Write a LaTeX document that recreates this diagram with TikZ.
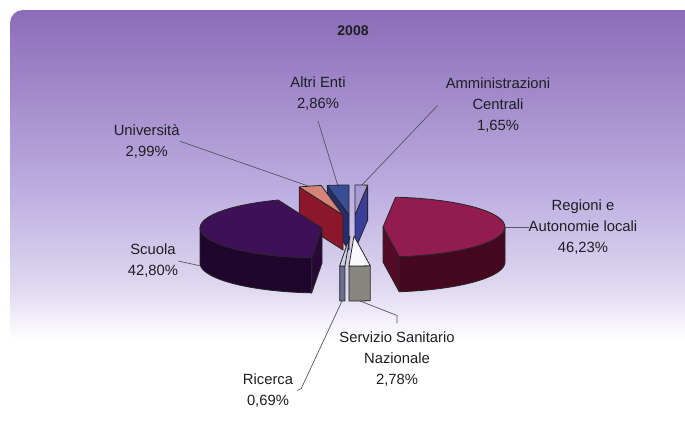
\documentclass[tikz,border=0pt]{standalone}
\usepackage{fontspec}
\setmainfont{Liberation Sans}
\definecolor{bgA}{RGB}{140,108,184}
\definecolor{bgB}{RGB}{188,174,224}
\definecolor{bgC}{RGB}{224,218,241}
\definecolor{txt}{RGB}{30,30,35}
\definecolor{leadc}{RGB}{85,85,100}
\definecolor{scT}{RGB}{62,16,88}
\definecolor{scS}{RGB}{40,8,55}
\definecolor{scSo}{RGB}{32,5,45}
\definecolor{regT}{RGB}{146,28,80}
\definecolor{regS}{RGB}{85,10,38}
\definecolor{regSo}{RGB}{70,8,30}
\definecolor{uniT}{RGB}{214,132,120}
\definecolor{uniS}{RGB}{140,22,42}
\definecolor{altT}{RGB}{58,78,150}
\definecolor{altS}{RGB}{35,45,110}
\definecolor{ammT}{RGB}{170,155,215}
\definecolor{ammS}{RGB}{60,62,155}
\definecolor{ssnT}{RGB}{248,248,252}
\definecolor{ssnS}{RGB}{135,135,128}
\definecolor{ricT}{RGB}{205,208,228}
\definecolor{ricS}{RGB}{105,110,140}
\def\PieRX{122}
\def\PieRY{30}
\def\PieH{35}
\newcommand{\PTop}[5]{\filldraw[piedge, fill=#5] (#1,#2) -- plot[domain=#3:#4, samples=30] ({#1+\PieRX*sin(\x)},{#2-\PieRY*cos(\x)}) -- cycle;}
\newcommand{\PSide}[5]{\filldraw[piedge, fill=#5] plot[domain=#3:#4, samples=30] ({#1+\PieRX*sin(\x)},{#2-\PieRY*cos(\x)}) -- plot[domain=#4:#3, samples=30] ({#1+\PieRX*sin(\x)},{#2+\PieH-\PieRY*cos(\x)}) -- cycle;}
\newcommand{\PRad}[4]{\filldraw[piedge, fill=#4] (#1,#2) -- ({#1+\PieRX*sin(#3)},{#2-\PieRY*cos(#3)}) -- ++(0,\PieH) -- ({#1},{#2+\PieH}) -- cycle;}
\tikzset{
  piedge/.style={draw=black!85, line width=0.8pt, line join=round},
  lbl/.style={font=\fontsize{14.8}{21}\selectfont, text=txt, align=center, inner sep=0pt},
  leader/.style={draw=leadc, line width=0.7pt},
}
\begin{document}
\begin{tikzpicture}[x=1pt,y=-1pt]
\useasboundingbox (0,0) rectangle (685,423);
\fill[white] (0,0) rectangle (685,423);
\begin{scope}
  \clip[rounded corners=13] (10,10) rectangle (720,470);
  \shade[top color=bgA, bottom color=bgB] (0,10) rectangle (700,191);
  \shade[top color=bgB, bottom color=bgC] (0,190) rectangle (700,291);
  \shade[top color=bgC, bottom color=white] (0,290) rectangle (700,340);
\end{scope}

% labels
\node[lbl, font=\fontsize{14}{16}\selectfont\bfseries] (title) at (353,31) {2008};
\node[lbl] (altri) at (318,94) {Altri Enti\\2,86\%};
\node[lbl] (amm) at (498,105.5) {Amministrazioni\\Centrali\\1,65\%};
\node[lbl] (uni) at (146.7,141.2) {Università\\2,99\%};
\node[lbl] (reg) at (583,227) {Regioni e\\Autonomie locali\\46,23\%};
\node[lbl] (scu) at (153,261) {Scuola\\42,80\%};
\node[lbl] (ssn) at (397,359) {Servizio Sanitario\\Nazionale\\2,78\%};
\node[lbl] (ric) at (268,390.5) {Ricerca\\0,69\%};

% leader end points on the slices
\coordinate (pUni) at (311,187);
\coordinate (pAltri) at (338,186);
\coordinate (pAmm) at (361,186);
\coordinate (pReg) at (505,227);
\coordinate (pScu) at (201,266);
\coordinate (pSsn) at (360,301);
\coordinate (pRic) at (342,301);

\draw[leader] (uni.east) -- (pUni);
\draw[leader] ([yshift=-10pt]altri.south) -- (pAltri);
\draw[leader] ([xshift=-8pt]amm.west) -- (pAmm);
\draw[leader] (reg.west) -- (pReg);
\draw[leader] (scu.east) -- (pScu);
\draw[leader] (pSsn) -- ([yshift=16pt]ssn.north) -- ([yshift=8pt]ssn.north);
\draw[leader] (pRic) -- ([xshift=8pt,yshift=2pt]ric.east) -- ([xshift=4pt]ric.east);

% back slices
\PRad{355}{215}{5.94}{ammS}
\PTop{355}{215}{0}{5.94}{ammT}
\PRad{349}{215}{349.70}{altS}
\PTop{349}{215}{349.70}{360}{altT}
\PRad{343}{215}{338.94}{uniS}
\PTop{343}{215}{338.94}{349.70}{uniT}
% Scuola
\PRad{322}{228}{184.86}{scS}
\PSide{322}{228}{184.86}{270}{scSo}
\PTop{322}{228}{184.86}{338.94}{scT}
% Regioni
\PRad{383}{227}{172.37}{regS}
\PSide{383}{227}{90}{172.37}{regSo}
\PTop{383}{227}{5.94}{172.37}{regT}
% front slices
\PSide{350}{236}{182.38}{184.86}{ricS}
\PTop{350}{236}{182.38}{184.86}{ricT}
\PSide{354}{236}{172.37}{182.38}{ssnS}
\PTop{354}{236}{172.37}{182.38}{ssnT}
\end{tikzpicture}
\end{document}
